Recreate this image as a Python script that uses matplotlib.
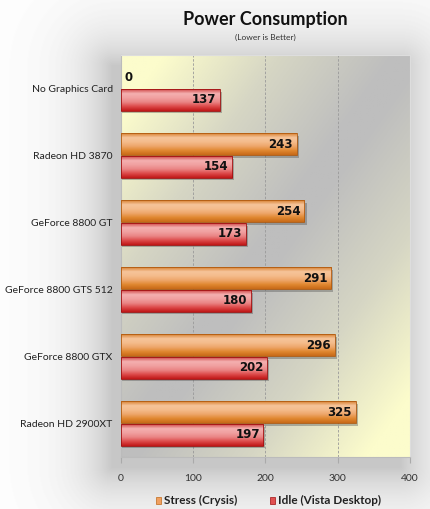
import numpy as np
import matplotlib
matplotlib.use("Agg")
import matplotlib.pyplot as plt
from matplotlib.colors import LinearSegmentedColormap
from matplotlib.patches import Rectangle

# ─── Data ─────────────────────────────────────────
cards = ["No Graphics Card", "Radeon HD 3870", "GeForce 8800 GT",
         "GeForce 8800 GTS 512", "GeForce 8800 GTX", "Radeon HD 2900XT"]
stress = [0, 243, 254, 291, 296, 325]
idle = [137, 154, 173, 180, 202, 197]
xticks = [0, 100, 200, 300, 400]

plt.rcParams["font.family"] = ["Lato", "DejaVu Sans"]

fig = plt.figure(figsize=(4.3, 5.09), dpi=100)
fig.patch.set_facecolor("white")

# soft shadow of the plot area, offset down-left
L, B, W, H = 0.2814, 0.102, 0.672, 0.790
sh = fig.add_axes([0, 0, 1, 1], zorder=-5)
sh.set_axis_off()
gx, gy = np.meshgrid(np.linspace(0, 1, 430), np.linspace(0, 1, 509))
x0, x1, y0, y1 = L - 0.02, L + W - 0.02, B - 0.02, B + H - 0.02
dx = np.maximum(np.maximum(x0 - gx, gx - x1), 0) * 4.3
dy = np.maximum(np.maximum(y0 - gy, gy - y1), 0) * 5.09
d = np.hypot(dx, dy)
shade = 0.22 * np.exp(-d / 0.35)
sh.imshow(1 - shade, cmap="gray", vmin=0, vmax=1, extent=[0, 1, 0, 1],
          origin="lower", aspect="auto")
sh.set_xlim(0, 1)
sh.set_ylim(0, 1)

ax = fig.add_axes([L, B, W, H])

# background gradient: yellow corners top-left/bottom-right, grey diagonal
u, v = np.meshgrid(np.linspace(0, 1, 200), np.linspace(0, 1, 200))
t = np.abs(u - (1 - v))
bg = LinearSegmentedColormap.from_list("bg", ["#bebebe", "#d6d6c4", "#fcfccc"])
ax.imshow(t, cmap=bg, extent=[0, 400, 5.5, -0.5], aspect="auto", zorder=0,
          vmin=0.05, vmax=0.85)

ax.set_xlim(0, 400)
ax.set_ylim(5.5, -0.5)

orange = LinearSegmentedColormap.from_list(
    "o", ["#d88030", "#f6c49a", "#f4bc8c", "#eea66a", "#e08830", "#c86a18"])
red = LinearSegmentedColormap.from_list(
    "r", ["#d04848", "#f4b0b0", "#f0a0a0", "#ea8484", "#dc4848", "#c01818"])
grad = np.linspace(0, 1, 60).reshape(-1, 1)

h = 0.32
off = 0.17
y = np.arange(len(cards))

def draw_bar(yc, val, cmap, edge):
    if val <= 0:
        return
    # shadow
    ax.add_patch(Rectangle((0, yc - h / 2 + 0.04), val + 3, h, color="#444444",
                           alpha=0.35, zorder=2, lw=0))
    ax.imshow(grad, cmap=cmap, extent=[0, val, yc + h / 2, yc - h / 2],
              aspect="auto", zorder=3)
    ax.add_patch(Rectangle((0, yc - h / 2), val, h, fill=False, ec=edge,
                           lw=0.6, zorder=4))

for i in range(len(cards)):
    draw_bar(y[i] - off, stress[i], orange, "#b05a10")
    draw_bar(y[i] + off, idle[i], red, "#a01010")
    sx = stress[i] - 5 if stress[i] > 0 else 5
    ax.text(sx, y[i] - off, str(stress[i]), ha="right" if stress[i] > 0 else "left",
            va="center", fontsize=8.5, fontweight="bold", color="#111111", zorder=5,
            family="DejaVu Sans")
    ax.text(idle[i] - 5, y[i] + off, str(idle[i]), ha="right", va="center",
            fontsize=8.5, fontweight="bold", color="#111111", zorder=5,
            family="DejaVu Sans")

ax.set_xticks(xticks)
ax.set_xticklabels([str(v) for v in xticks], fontsize=7.5, color="#333333")
ax.set_yticks(y)
ax.set_yticklabels(cards, fontsize=7.5, color="#222222")
ax.tick_params(axis="y", length=0, pad=6)
ax.tick_params(axis="x", length=4, color="#aaaaaa", pad=8)
for xv in xticks[1:-1]:
    ax.axvline(xv, color="#999999", ls=(0, (3, 2)), lw=0.6, zorder=1)
for s in ["top", "right"]:
    ax.spines[s].set_color("#dddddd")
ax.spines["left"].set_color("#bbbbbb")
ax.spines["bottom"].set_color("#bbbbbb")

cx = L + W / 2
fig.text(cx, 0.962, "Power Consumption", ha="center", va="center",
         fontsize=13, fontweight="bold", color="#111111")
fig.text(cx, 0.926, "(Lower is Better)", ha="center", va="center",
         fontsize=6, color="#333333")

# legend
ly = 0.016
fig.patches.append(Rectangle((0.363, ly - 0.007), 0.012, 0.014, transform=fig.transFigure,
                             fc="#f0a060", ec="#c06a1a", lw=0.5))
fig.text(0.381, ly, "Stress (Crysis)", ha="left", va="center",
         fontsize=8.5, fontweight="bold", color="#222222")
fig.patches.append(Rectangle((0.628, ly - 0.007), 0.012, 0.014, transform=fig.transFigure,
                             fc="#e05050", ec="#a01010", lw=0.5))
fig.text(0.646, ly, "Idle (Vista Desktop)", ha="left", va="center",
         fontsize=8.5, fontweight="bold", color="#222222")

fig.savefig("out.png", dpi=100)
